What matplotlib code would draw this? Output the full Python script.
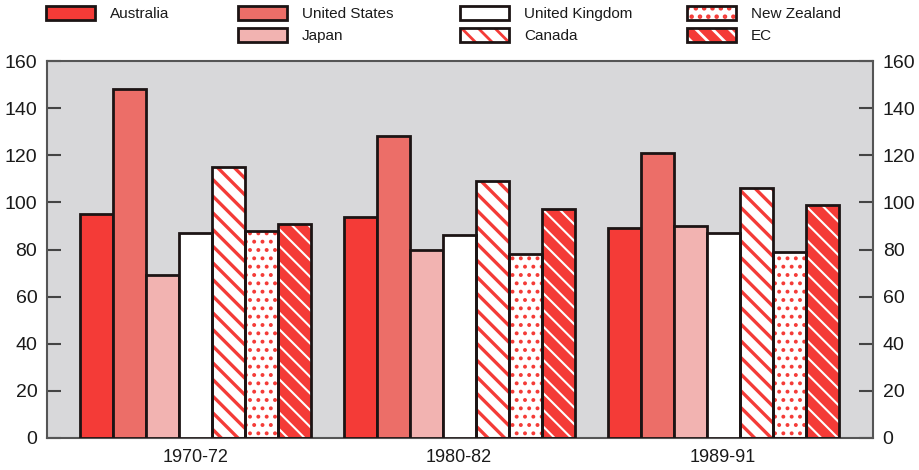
import matplotlib
matplotlib.use("Agg")
import matplotlib.pyplot as plt
import numpy as np
from matplotlib.patches import Patch
from matplotlib.legend_handler import HandlerTuple

plt.rcParams['font.family'] = ['Liberation Sans', 'DejaVu Sans']
plt.rcParams['hatch.linewidth'] = 2.0

periods = ["1970-72", "1980-82", "1989-91"]
countries = ["Australia", "United States", "Japan", "United Kingdom",
             "Canada", "New Zealand", "EC"]

australia = [95, 94, 89]
united_states = [148, 128, 121]
japan = [69, 80, 90]
united_kingdom = [87, 86, 87]
canada = [115, 109, 106]
new_zealand = [88, 78, 79]
ec = [91, 97, 99]

series = [australia, united_states, japan, united_kingdom, canada, new_zealand, ec]

red = '#f43b37'
# (face colour, hatch colour, hatch, hatch linewidth)
styles = [
    (red, None, None, 0),
    ('#ec6e68', None, None, 0),
    ('#f2b3b1', None, None, 0),
    ('white', None, None, 0),
    ('white', red, '\\\\', 2.4),
    ('white', red, '..', 1.6),
    (red, 'white', '\\\\', 1.5),
]

fig = plt.figure(figsize=(9.2, 4.7), dpi=100)
ax = fig.add_axes([47 / 920, 32 / 470, 826 / 920, 377 / 470])
ax.set_facecolor('#d8d8da')


def hatched(patches, hlw):
    for p in patches:
        if hasattr(p, 'set_hatch_linewidth'):
            p.set_hatch_linewidth(hlw)


x = np.arange(len(periods))
w = 0.125
edge = '#1c1414'
handles = []
for i, (vals, (fc, hc, hatch, hlw)) in enumerate(zip(series, styles)):
    pos = x + (i - 3) * w
    if hatch:
        with plt.rc_context({'hatch.linewidth': hlw}):
            bars = ax.bar(pos, vals, w, color=fc, edgecolor=hc, hatch=hatch,
                          linewidth=0, zorder=2)
            hp = Patch(facecolor=fc, edgecolor=hc, hatch=hatch, linewidth=0)
        hatched(bars, hlw)
        hatched([hp], hlw)
        ax.bar(pos, vals, w, facecolor='none', edgecolor=edge, linewidth=2.0, zorder=3)
        h = (hp, Patch(facecolor='none', edgecolor=edge, linewidth=2.0))
    else:
        ax.bar(pos, vals, w, color=fc, edgecolor=edge, linewidth=2.0, zorder=3)
        h = Patch(facecolor=fc, edgecolor=edge, linewidth=2.0)
    handles.append(h)

ax.set_xlim(-0.561, 2.568)
ax.set_ylim(0, 160)
ax.set_yticks(range(0, 161, 20))
ax.set_xticks(x)
ax.set_xticklabels(periods, fontsize=13, color='#1a1a1a')
ax.tick_params(axis='x', length=0, pad=8)
ax.tick_params(axis='y', direction='in', length=10, width=1.5, color='#444444',
               labelsize=14, labelcolor='#1a1a1a', pad=7,
               left=True, right=True, labelleft=True, labelright=True)
for s in ax.spines.values():
    s.set_color('#555555')
    s.set_linewidth(1.5)

# legend laid out in four columns across the top
blank = Patch(facecolor='none', edgecolor='none')
columns = [
    ([handles[0], blank], [countries[0], ""], 46),
    ([handles[1], handles[2]], [countries[1], countries[2]], 238),
    ([handles[3], handles[4]], [countries[3], countries[4]], 460),
    ([handles[5], handles[6]], [countries[5], countries[6]], 687),
]
for hs, labels, xpos in columns:
    leg = fig.legend(hs, labels, loc='upper left', bbox_to_anchor=(xpos / 920, 1 - 6 / 470),
                     frameon=False, fontsize=11, handlelength=3.2, handleheight=1.0,
                     handletextpad=1.0, labelspacing=0.45, borderpad=0, borderaxespad=0,
                     handler_map={tuple: HandlerTuple(ndivide=1, pad=0)})
    for t in leg.get_texts():
        t.set_color('#1a1a1a')

fig.savefig('out.png', dpi=100, facecolor='white')
